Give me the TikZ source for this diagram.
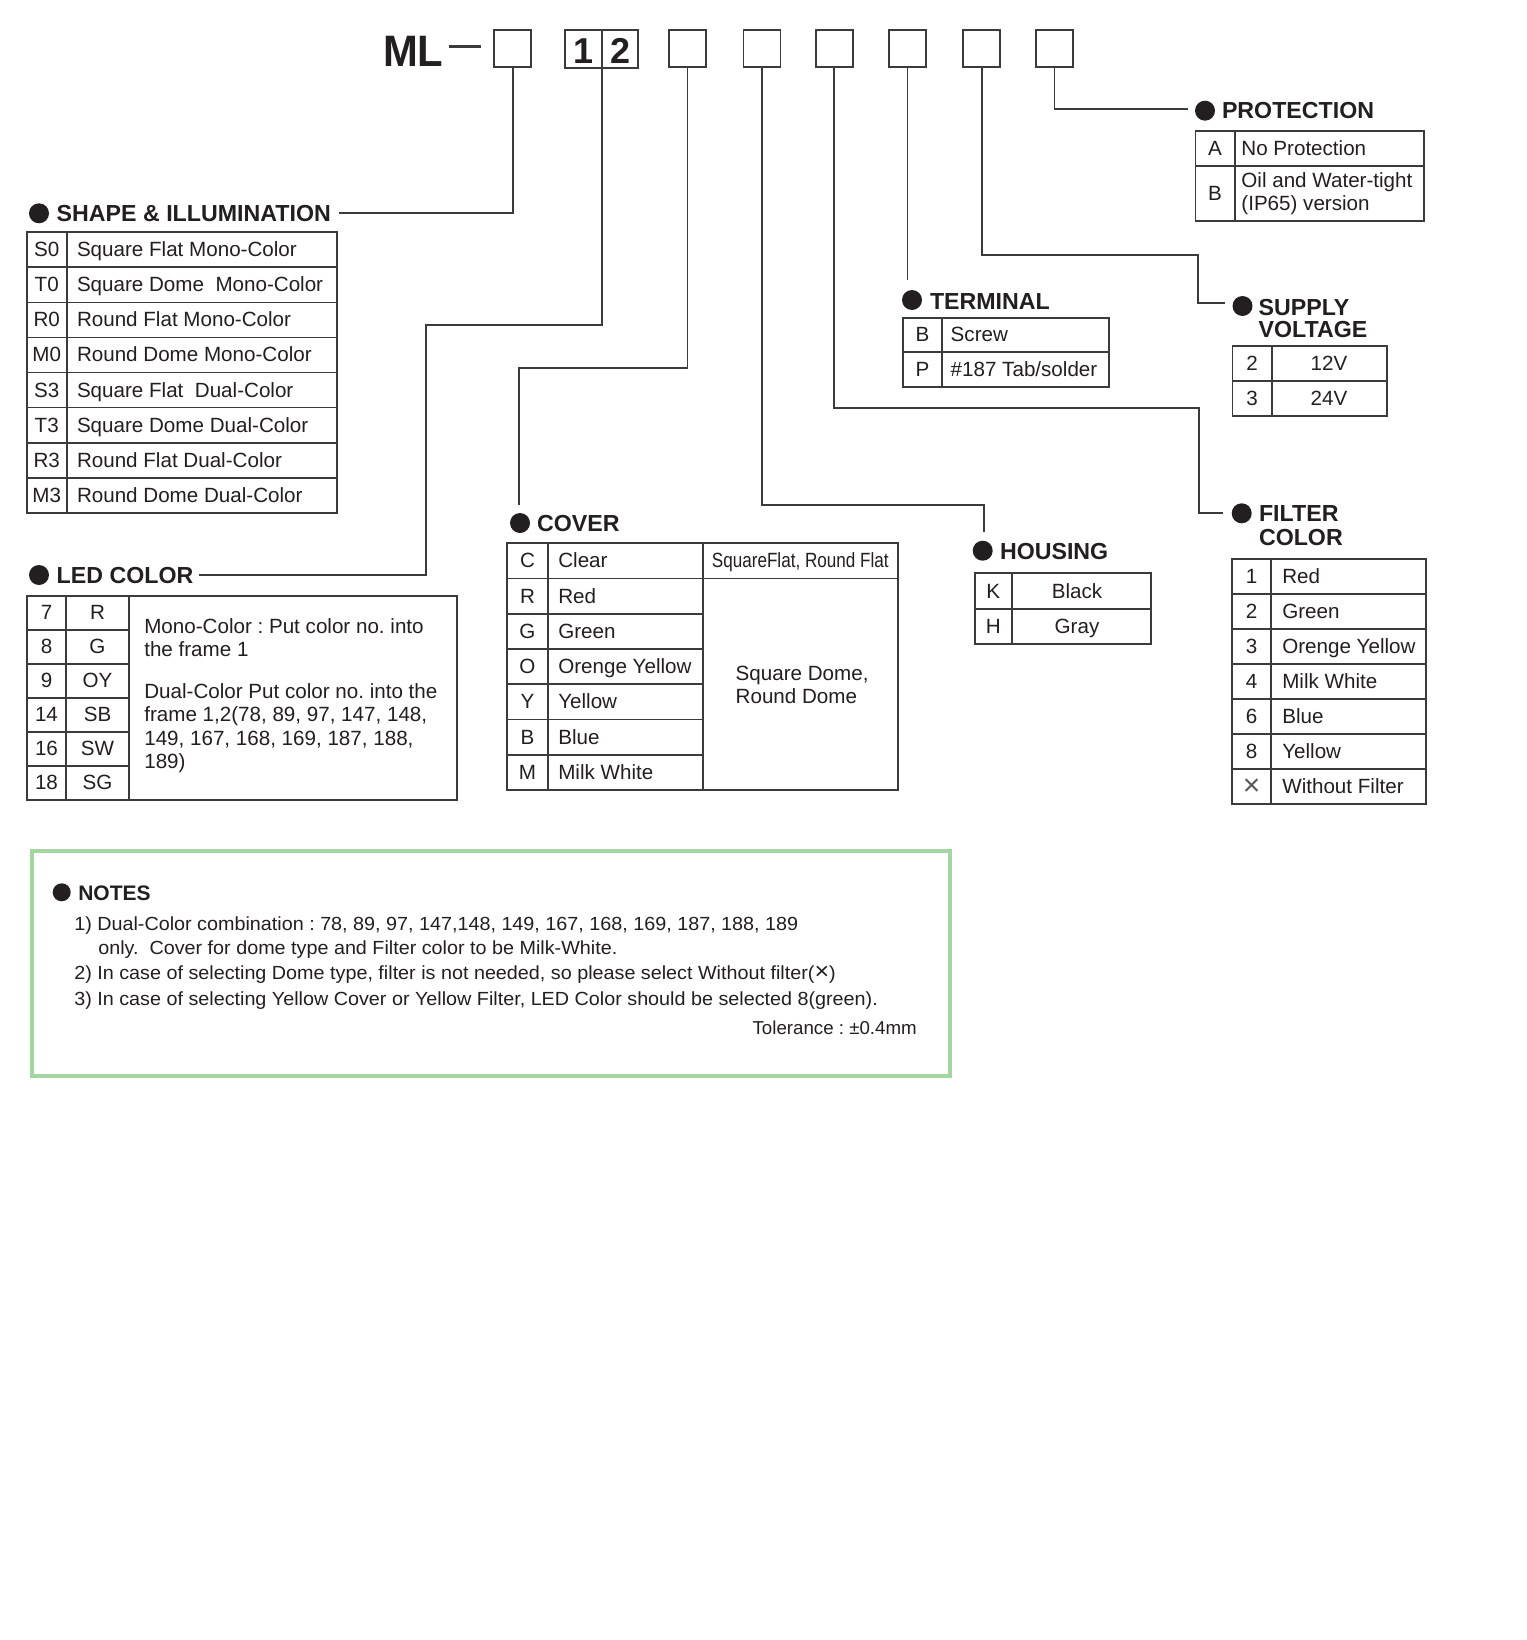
\documentclass[tikz,border=0pt]{standalone}
\usepackage{fontspec}
\usepackage{graphicx}
\setmainfont{Liberation Sans}
\newfontfamily\notefont[FakeStretch=1.04]{Liberation Sans}
\definecolor{ink}{HTML}{231F20}
\definecolor{rulec}{HTML}{3B3B3B}
\definecolor{notegreen}{HTML}{A3D6A0}
\frenchspacing
\begin{document}
\frenchspacing
\begin{tikzpicture}[x=1pt,y=-1pt,
  every node/.style={inner sep=0pt, outer sep=0pt, text=ink},
  body/.style={font=\fontsize{20.6}{23.4}\selectfont},
  head/.style={font=\fontsize{23.2}{24}\selectfont\bfseries, anchor=base west},
  bul/.style={circle, fill=ink, minimum size=20pt},
  ln/.style={draw=rulec, line width=1.8pt},
  tb/.style={draw=rulec, line width=1.8pt},
  codebox/.style={draw=rulec, line width=1.8pt, minimum width=37pt, minimum height=37pt},
  notes/.style={font=\notefont\fontsize{19}{25}\selectfont, anchor=base west}
]
\useasboundingbox[fill=white] (0,0) rectangle (1526,1640);

% ---------- title row ----------
\node[font=\fontsize{44}{44}\selectfont\bfseries, anchor=base west] (ml) at (383,66.7) {\scalebox{0.95}[1]{ML}};
\draw[rulec, line width=2.6pt] (449.3,46.7) -- (481,46.7);
\node[codebox] (b1) at (512.7,48.4) {};
\node[codebox, minimum width=73.3pt, minimum height=38pt] (b12) at (601.7,49.2) {};
\draw[tb] (b12.north) -- (b12.south);
\node[font=\fontsize{36}{36}\selectfont\bfseries, anchor=base] (d1) at (583.3,63.3) {1};
\node[font=\fontsize{36}{36}\selectfont\bfseries, anchor=base] (d2) at (620.2,63.3) {2};
\node[codebox] (b3) at (687.5,48.4) {};
\node[codebox] (b4) at (762,48.4) {};
\node[codebox] (b5) at (834.3,48.4) {};
\node[codebox] (b6) at (907.5,48.4) {};
\node[codebox] (b7) at (981.8,48.4) {};
\node[codebox] (b8) at (1054.5,48.4) {};

% ---------- connector end points ----------
\coordinate (shE) at (339,213.3);
\coordinate (ledE) at (199,575);
\coordinate (covN) at (519,505);
\coordinate (housN) at (984,531.7);
\coordinate (filtW) at (1223.3,512.7);
\coordinate (termN) at (907.5,280);
\coordinate (supW) at (1224.6,303.3);
\coordinate (protW) at (1188,109.3);

\draw[ln] (b1.south) |- (shE);
\draw[ln] (b12.south) |- (425.7,325) |- (ledE);
\draw[ln] (b3.south) |- (519,368.3) -- (covN);
\draw[ln] (b4.south) |- (984,505) -- (housN);
\draw[ln] (b5.south) |- (1199,408.3) |- (filtW);
\draw[ln] (b6.south) -- (termN);
\draw[ln] (b7.south) |- (1197.9,255) |- (supW);
\draw[ln] (b8.south) |- (protW);

% ---------- SHAPE & ILLUMINATION ----------
\node[bul] (shB) at (39,213.3) {};
\node[head] (shH) at (56.7,221.7) {SHAPE \& ILLUMINATION};
\draw[tb] (26.7,232.3) rectangle (337.3,512.7);
\draw[tb] (66.7,232.3) -- (66.7,512.7);
\foreach \k in {1,...,7} \draw[tb] (26.7,{232.3+35.05*\k}) -- (337.3,{232.3+35.05*\k});
\foreach \c/\d [count=\i] in {S0/Square Flat Mono-Color, T0/Square Dome\ \ Mono-Color, R0/Round Flat Mono-Color, M0/Round Dome Mono-Color, S3/Square Flat\ \ Dual-Color, T3/Square Dome Dual-Color, R3/Round Flat Dual-Color, M3/Round Dome Dual-Color}{
  \node[body, anchor=base] (sc\i) at (46.7,{232.3+35.05*(\i-0.5)+7}) {\c};
  \node[body, anchor=base west] (sd\i) at (77,{232.3+35.05*(\i-0.5)+7}) {\d};
}

% ---------- LED COLOR ----------
\node[bul] (ledB) at (39,575) {};
\node[head] (ledH) at (56.7,583.5) {LED COLOR};
\draw[tb] (27.3,595.7) rectangle (456.7,800);
\draw[tb] (65.7,595.7) -- (65.7,800);
\draw[tb] (129.3,595.7) -- (129.3,800);
\foreach \k in {1,...,5} \draw[tb] (27.3,{595.7+34.05*\k}) -- (129.3,{595.7+34.05*\k});
\foreach \c/\d [count=\i] in {7/R, 8/G, 9/OY, 14/SB, 16/SW, 18/SG}{
  \node[body, anchor=base] (lc\i) at (46.5,{595.7+34.05*(\i-0.5)+7}) {\c};
  \node[body, anchor=base] (ld\i) at (97.5,{595.7+34.05*(\i-0.5)+7}) {\d};
}
\node[body, anchor=base west] (lt1) at (144.3,633.3) {Mono-Color : Put color no. into};
\node[body, anchor=base west] (lt2) at (144.3,656.7) {the frame 1};
\node[body, anchor=base west] (lt3) at (144.3,698.3) {Dual-Color Put color no. into the};
\node[body, anchor=base west] (lt4) at (144.3,721.7) {frame 1,2(78, 89, 97, 147, 148,};
\node[body, anchor=base west] (lt5) at (144.3,745) {149, 167, 168, 169, 187, 188,};
\node[body, anchor=base west] (lt6) at (144.3,768.3) {189)};

% ---------- COVER ----------
\node[bul] (covB) at (520,523) {};
\node[head] (covH) at (537,531.7) {COVER};
\draw[tb] (507.3,543.3) rectangle (898.3,790);
\draw[tb] (547.7,543.3) -- (547.7,790);
\draw[tb] (703.3,543.3) -- (703.3,790);
\draw[tb] (507.3,{543.3+35.24}) -- (898.3,{543.3+35.24});
\foreach \k in {2,...,6} \draw[tb] (507.3,{543.3+35.24*\k}) -- (703.3,{543.3+35.24*\k});
\foreach \c/\d [count=\i] in {C/Clear, R/Red, G/Green, O/Orenge Yellow, Y/Yellow, B/Blue, M/Milk White}{
  \node[body, anchor=base] (cc\i) at (527.5,{543.3+35.24*(\i-0.5)+7}) {\c};
  \node[body, anchor=base west] (cd\i) at (558.3,{543.3+35.24*(\i-0.5)+7}) {\d};
}
\node[body, anchor=base] (cf) at (800.3,{543.3+17.6+7}) {\scalebox{0.83}[1]{SquareFlat, Round Flat}};
\node[body, anchor=base west] (cdome1) at (735.7,680) {Square Dome,};
\node[body, anchor=base west] (cdome2) at (735.7,703.3) {Round Dome};

% ---------- TERMINAL ----------
\node[bul] (termB) at (912,300) {};
\node[head] (termH) at (930,309.3) {TERMINAL};
\draw[tb] (903.2,317.7) rectangle (1109.3,386.7);
\draw[tb] (941.8,317.7) -- (941.8,386.7);
\draw[tb] (903.2,352.2) -- (1109.3,352.2);
\node[body, anchor=base] (tc1) at (922.5,{317.7+17.25+7}) {B};
\node[body, anchor=base west] (td1) at (950.7,{317.7+17.25+7}) {Screw};
\node[body, anchor=base] (tc2) at (922.5,{352.2+17.25+7}) {P};
\node[body, anchor=base west] (td2) at (950.7,{352.2+17.25+7}) {\#187 Tab/solder};

% ---------- HOUSING ----------
\node[bul] (housB) at (982.7,550.7) {};
\node[head] (housH) at (1000,559) {HOUSING};
\draw[tb] (975,573.3) rectangle (1151,644);
\draw[tb] (1011.7,573.3) -- (1011.7,644);
\draw[tb] (975,608.7) -- (1151,608.7);
\node[body, anchor=base] (hc1) at (993.3,{573.3+17.7+7}) {K};
\node[body, anchor=base] (hd1) at (1077,{573.3+17.7+7}) {Black};
\node[body, anchor=base] (hc2) at (993.3,{608.7+17.7+7}) {H};
\node[body, anchor=base] (hd2) at (1077,{608.7+17.7+7}) {Gray};

% ---------- PROTECTION ----------
\node[bul] (protB) at (1205,110.7) {};
\node[head] (protH) at (1222,118.3) {PROTECTION};
\draw[tb] (1195.4,130.7) rectangle (1424,220.7);
\draw[tb] (1234.6,130.7) -- (1234.6,220.7);
\draw[tb] (1195.4,166) -- (1424,166);
\node[body, anchor=base] (pc1) at (1215,155.5) {A};
\node[body, anchor=base west] (pd1) at (1241.4,156) {No Protection};
\node[body, anchor=base] (pc2) at (1215,200.5) {B};
\node[body, anchor=base west] (pd2) at (1241.4,187.3) {Oil and Water-tight};
\node[body, anchor=base west] (pd3) at (1241.4,210.7) {(IP65) version};

% ---------- SUPPLY VOLTAGE ----------
\node[bul] (supB) at (1242.5,306) {};
\node[head] (supH1) at (1258.6,315) {SUPPLY};
\node[head] (supH2) at (1258.6,337.3) {VOLTAGE};
\draw[tb] (1232.5,346) rectangle (1387,416);
\draw[tb] (1271.8,346) -- (1271.8,416);
\draw[tb] (1232.5,381) -- (1387,381);
\node[body, anchor=base] (vc1) at (1252,{346+17.5+7}) {2};
\node[body, anchor=base] (vd1) at (1329,{346+17.5+7}) {12V};
\node[body, anchor=base] (vc2) at (1252,{381+17.5+7}) {3};
\node[body, anchor=base] (vd2) at (1329,{381+17.5+7}) {24V};

% ---------- FILTER COLOR ----------
\node[bul] (filtB) at (1241.7,513.3) {};
\node[head] (filtH1) at (1259,521.7) {FILTER};
\node[head] (filtH2) at (1259,545) {COLOR};
\draw[tb] (1232.3,559) rectangle (1425.7,804.3);
\draw[tb] (1271,559) -- (1271,804.3);
\foreach \k in {1,...,6} \draw[tb] (1232.3,{559+35.04*\k}) -- (1425.7,{559+35.04*\k});
\foreach \c/\d [count=\i] in {1/Red, 2/Green, 3/Orenge Yellow, 4/Milk White, 6/Blue, 8/Yellow}{
  \node[body, anchor=base] (fc\i) at (1251.6,{559+35.04*(\i-0.5)+7}) {\c};
  \node[body, anchor=base west] (fd\i) at (1282.3,{559+35.04*(\i-0.5)+7}) {\d};
}
\node[font=\fontsize{30}{30}\selectfont\mdseries, anchor=center, text=rulec!85] (fc7) at (1251.6,{559+35.04*6.5}) {×};
\node[body, anchor=base west] (fd7) at (1282.3,{559+35.04*6.5+7}) {Without Filter};

% ---------- NOTES ----------
\draw[notegreen, line width=3.6pt] (32,851) rectangle (950,1076);
\node[bul, minimum size=18pt] (noteB) at (61.7,892.3) {};
\node[font=\fontsize{21}{22}\selectfont\bfseries, anchor=base west] (noteH) at (78.3,900) {NOTES};
\node[notes] (n1) at (74.3,930) {1) Dual-Color combination : 78, 89, 97, 147,148, 149, 167, 168, 169, 187, 188, 189};
\node[notes] (n1b) at (98.3,954.5) {only.\ \ Cover for dome type and Filter color to be Milk-White.};
\node[notes] (n2) at (74.3,979.5) {2) In case of selecting Dome type, filter is not needed, so please select Without filter({\fontsize{24}{25}\selectfont ×})};
\node[notes] (n3) at (74.3,1005) {3) In case of selecting Yellow Cover or Yellow Filter, LED Color should be selected 8(green).};
\node[font=\fontsize{18.7}{20}\selectfont, anchor=base east] (tol) at (916.7,1034) {Tolerance : ±0.4mm};
\end{tikzpicture}
\end{document}
